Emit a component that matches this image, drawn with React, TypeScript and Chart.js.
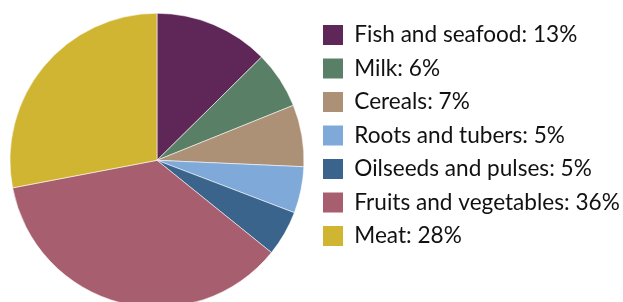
import React, { useEffect, useRef } from "react";
import { Chart, registerables } from "chart.js";

Chart.register(...registerables);

const categories = [
  "Fish and seafood",
  "Milk",
  "Cereals",
  "Roots and tubers",
  "Oilseeds and pulses",
  "Fruits and vegetables",
  "Meat",
];
const shares = [12.6, 6.3, 6.8, 5.1, 5.0, 36.2, 28.0];
const shareLabels = ["13%", "6%", "7%", "5%", "5%", "36%", "28%"];
const colors = ["#5E2758", "#598067", "#AD9177", "#7EA9D9", "#3A648C", "#A75F6F", "#D0B533"];

export default function App() {
  const ref = useRef<HTMLCanvasElement>(null);
  useEffect(() => {
    let chart: Chart | null = null;
    let cancelled = false;
    const make = () => {
      if (cancelled || !ref.current) return;
      chart = new Chart(ref.current, {
        type: "pie",
        data: {
          labels: categories,
          datasets: [
            {
              data: shares,
              backgroundColor: colors,
              borderColor: "rgba(255,255,255,0.55)",
              borderWidth: 1,
              hoverOffset: 0,
            },
          ],
        },
        options: {
          responsive: false,
          animation: false,
          layout: { padding: { left: 1.9, right: 3.5, top: 12.8, bottom: 2.2 } },
          plugins: {
            tooltip: { enabled: false },
            legend: {
              position: "right",
              align: "start",
              maxWidth: 307.4,
              labels: {
                boxWidth: 20,
                boxHeight: 20,
                padding: 10.9,
                color: "#111111",
                font: { family: "Lato", size: 22.6 },
                generateLabels: () =>
                  categories.map((c, i) => ({
                    text: `${c}: ${shareLabels[i]}`,
                    fillStyle: colors[i],
                    strokeStyle: colors[i],
                    lineWidth: 0,
                    hidden: false,
                    index: i,
                    fontColor: "#111111",
                  })),
              },
            },
          },
        },
      });
    };
    if ((document as any).fonts && (document as any).fonts.load) {
      (document as any).fonts.load("23px Lato").then(make, make);
    } else make();
    return () => {
      cancelled = true;
      if (chart) chart.destroy();
    };
  }, []);
  return (
    <div style={{ position: "fixed", left: 0, top: 0, width: 623, height: 302, overflow: "hidden", background: "#fff" }}>
      <canvas ref={ref} width={623} height={310} style={{ display: "block" }} />
    </div>
  );
}
